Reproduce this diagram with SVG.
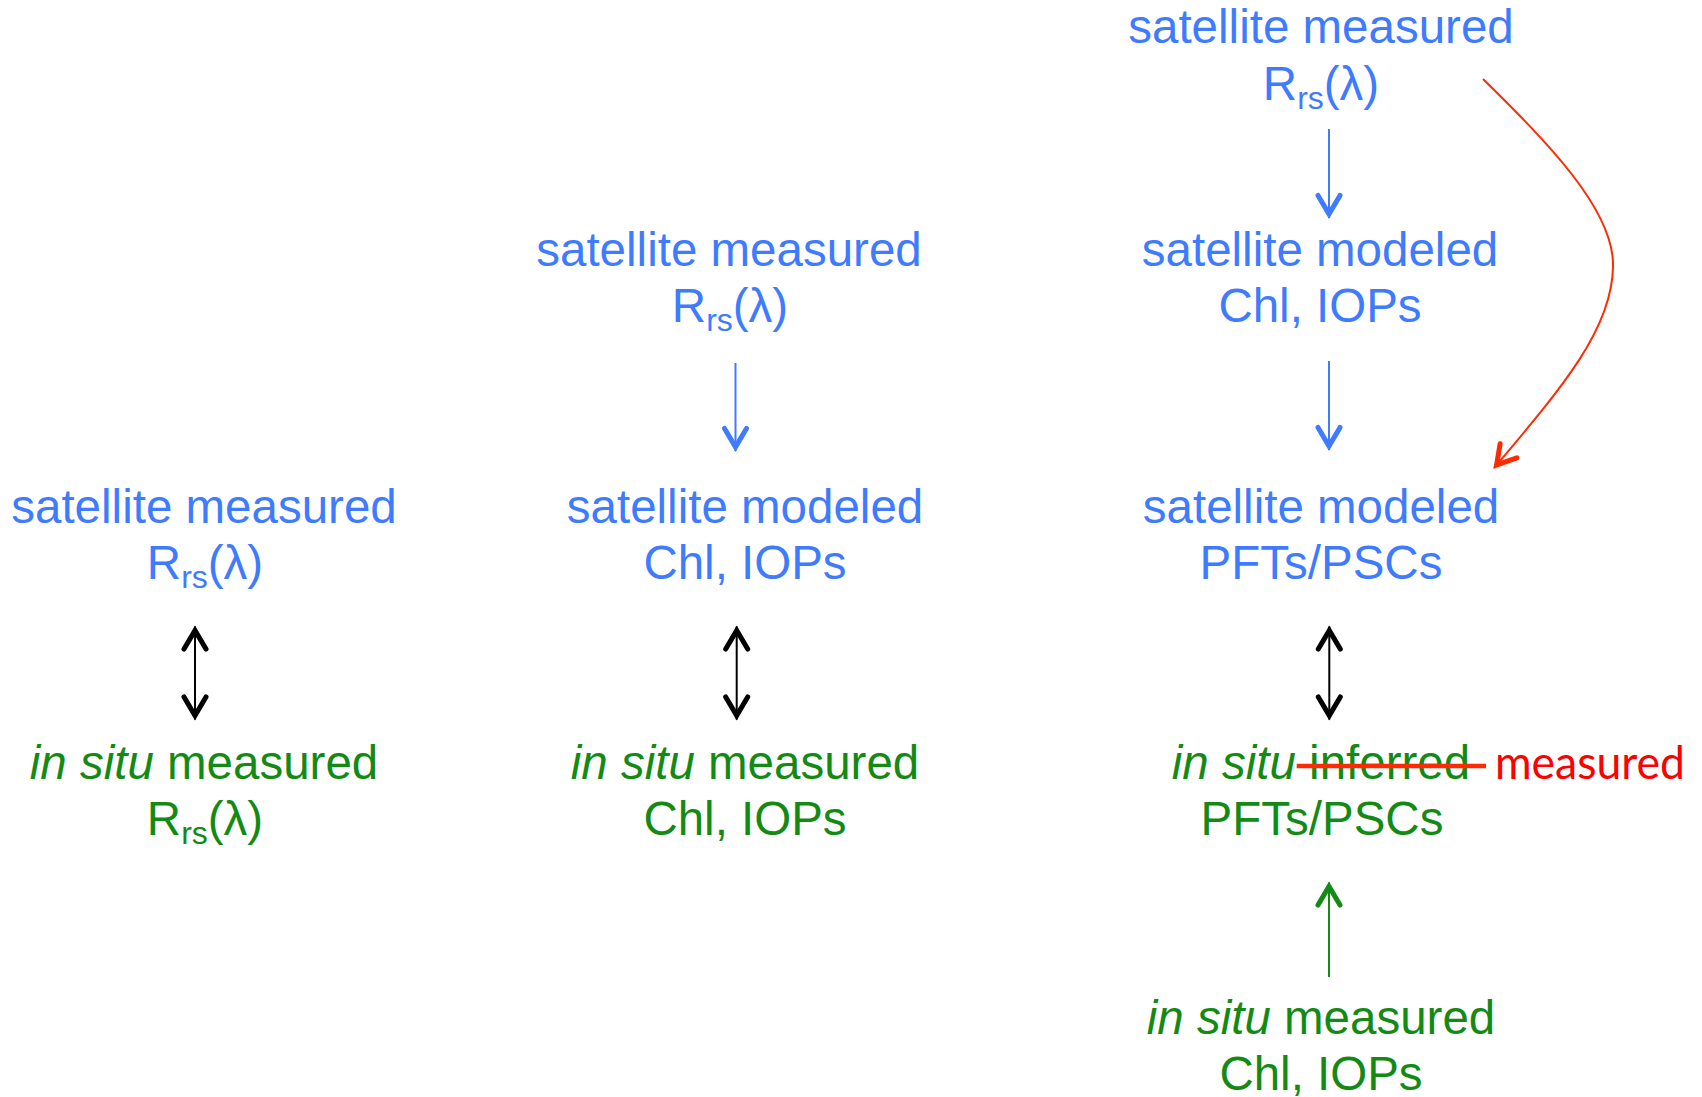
<svg xmlns="http://www.w3.org/2000/svg" width="1702" height="1097" viewBox="0 0 1702 1097">
<style>
text{font-family:"Liberation Sans",Arial,sans-serif;font-size:47.5px;text-anchor:middle}
.b{fill:#3F7BFF}
.g{fill:#138A13}
.sub{font-size:32px}
.it{font-style:italic}
.ln{fill:none;stroke-width:2}
</style>
<defs>
<marker id="mBlue" markerUnits="userSpaceOnUse" viewBox="-30 -15 35 30" refX="0" refY="0" markerWidth="35" markerHeight="30" orient="auto-start-reverse" overflow="visible">
<path d="M-22.5,-11 L-4,0 L-22.5,11" fill="none" stroke="#3F7BFF" stroke-width="5" stroke-linecap="round" stroke-linejoin="miter"/>
</marker>
<marker id="mBlack" markerUnits="userSpaceOnUse" viewBox="-30 -15 35 30" refX="0" refY="0" markerWidth="35" markerHeight="30" orient="auto-start-reverse" overflow="visible">
<path d="M-22.5,-11 L-4,0 L-22.5,11" fill="none" stroke="#000" stroke-width="5" stroke-linecap="round" stroke-linejoin="miter"/>
</marker>
<marker id="mGreen" markerUnits="userSpaceOnUse" viewBox="-30 -15 35 30" refX="0" refY="0" markerWidth="35" markerHeight="30" orient="auto-start-reverse" overflow="visible">
<path d="M-22.5,-11 L-4,0 L-22.5,11" fill="none" stroke="#138A13" stroke-width="5" stroke-linecap="round" stroke-linejoin="miter"/>
</marker>
<marker id="mRed" markerUnits="userSpaceOnUse" viewBox="-30 -15 35 30" refX="0" refY="0" markerWidth="35" markerHeight="30" orient="auto-start-reverse" overflow="visible">
<path d="M-22.5,-11 L-4,0 L-22.5,11" fill="none" stroke="#FF2A00" stroke-width="5" stroke-linecap="round" stroke-linejoin="miter"/>
</marker>
</defs>
<rect width="1702" height="1097" fill="#fff"/>

<g id="connectors">
<path class="ln" stroke="#3F7BFF" d="M1329,129 L1329,218" marker-end="url(#mBlue)"/>
<path class="ln" stroke="#3F7BFF" d="M1329,361 L1329,450" marker-end="url(#mBlue)"/>
<path class="ln" stroke="#3F7BFF" d="M735.5,363 L735.5,451" marker-end="url(#mBlue)"/>
<path class="ln" stroke="#000" d="M195,626.5 L195,719.5" marker-start="url(#mBlack)" marker-end="url(#mBlack)"/>
<path class="ln" stroke="#000" d="M736.7,626.5 L736.7,719.5" marker-start="url(#mBlack)" marker-end="url(#mBlack)"/>
<path class="ln" stroke="#000" d="M1329.3,626.5 L1329.3,719.5" marker-start="url(#mBlack)" marker-end="url(#mBlack)"/>
<path class="ln" stroke="#138A13" d="M1329,977 L1329,882.5" marker-end="url(#mGreen)"/>
<path class="ln" stroke="#FF2A00" d="M1483,79 C1545,140 1615,210 1613,267 C1612,330 1560,390 1494,468" marker-end="url(#mRed)"/>
</g>

<g id="n-left-sat">
<text class="b" x="204" y="523">satellite measured</text>
<text class="b" x="205" y="579">R<tspan class="sub" dy="9">rs</tspan><tspan dy="-9">(λ)</tspan></text>
</g>
<g id="n-left-insitu">
<text class="g" x="204" y="779"><tspan class="it">in situ</tspan> measured</text>
<text class="g" x="205" y="835">R<tspan class="sub" dy="9">rs</tspan><tspan dy="-9">(λ)</tspan></text>
</g>

<g id="n-mid-sat-meas">
<text class="b" x="729" y="266">satellite measured</text>
<text class="b" x="730" y="322">R<tspan class="sub" dy="9">rs</tspan><tspan dy="-9">(λ)</tspan></text>
</g>
<g id="n-mid-sat-mod">
<text class="b" x="745" y="523">satellite modeled</text>
<text class="b" x="745" y="579">Chl, IOPs</text>
</g>
<g id="n-mid-insitu">
<text class="g" x="745" y="779"><tspan class="it">in situ</tspan> measured</text>
<text class="g" x="745" y="835">Chl, IOPs</text>
</g>

<g id="n-right-sat-meas">
<text class="b" x="1321" y="43">satellite measured</text>
<text class="b" x="1321" y="100">R<tspan class="sub" dy="9">rs</tspan><tspan dy="-9">(λ)</tspan></text>
</g>
<g id="n-right-sat-chl">
<text class="b" x="1320" y="266">satellite modeled</text>
<text class="b" x="1320" y="322">Chl, IOPs</text>
</g>
<g id="n-right-sat-pft">
<text class="b" x="1321" y="523">satellite modeled</text>
<text class="b" x="1321" y="579">PFTs/PSCs</text>
</g>
<g id="n-right-insitu-pft">
<text class="g" x="1321" y="779"><tspan class="it">in situ</tspan> inferred</text>
<line x1="1296.7" y1="766" x2="1486" y2="766" stroke="#FF2A00" stroke-width="4.7"/>
<text x="1495" y="779" style="text-anchor:start;font-family:Lato,'Liberation Sans',sans-serif;font-size:47px" fill="#FF0000" textLength="190" lengthAdjust="spacingAndGlyphs">measured</text>
<text class="g" x="1322" y="835">PFTs/PSCs</text>
</g>
<g id="n-right-insitu-chl">
<text class="g" x="1321" y="1034"><tspan class="it">in situ</tspan> measured</text>
<text class="g" x="1321" y="1090">Chl, IOPs</text>
</g>
</svg>
